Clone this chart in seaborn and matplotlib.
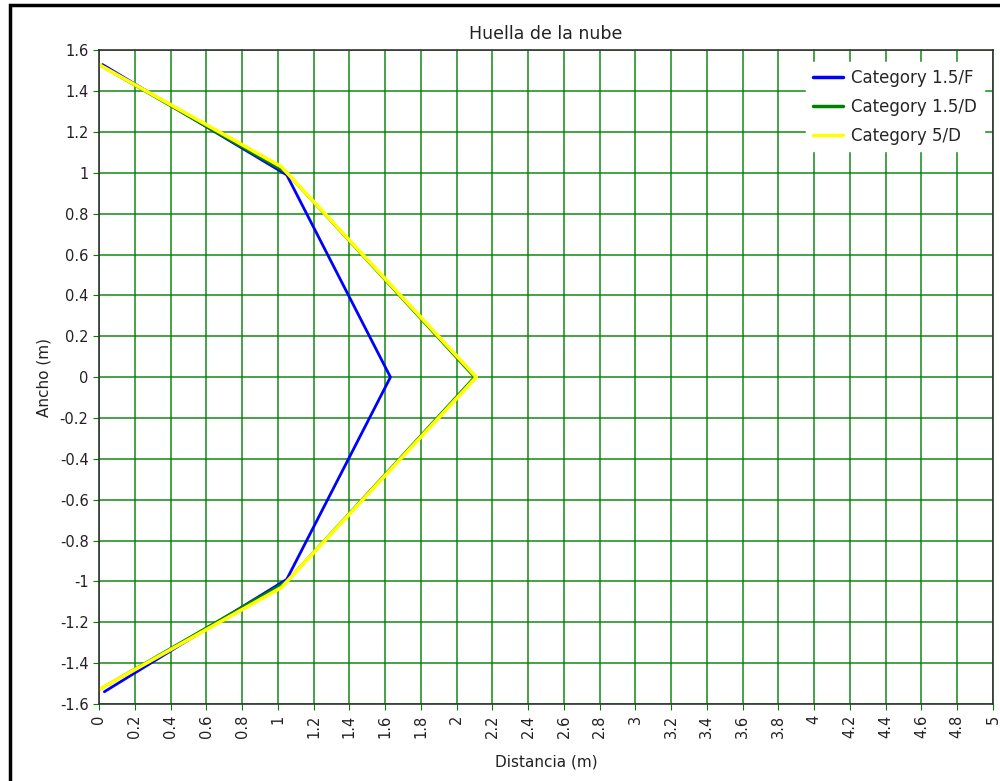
import numpy as np
import pandas as pd
import seaborn as sns
import matplotlib.pyplot as plt
from matplotlib.ticker import FuncFormatter
from matplotlib.patches import Rectangle

# huella de la nube
dist_15F = [0.02, 1.05, 1.63, 1.05, 0.03]
ancho_15F = [1.53, 0.99, 0.0, -0.99, -1.54]

dist_15D = [0.0, 1.05, 2.10, 1.05, 0.0]
ancho_15D = [1.53, 1.00, 0.0, -1.00, -1.53]

dist_5D = [0.0, 1.02, 2.11, 1.02, 0.0]
ancho_5D = [1.53, 1.03, 0.0, -1.03, -1.53]

series_names = ['Category 1.5/F', 'Category 1.5/D', 'Category 5/D']
series_colors = ['#0000ff', '#008000', '#ffff00']
series_widths = [2.0, 2.0, 2.6]

df = pd.concat([
    pd.DataFrame({'dist': dist_15F, 'ancho': ancho_15F, 'cat': series_names[0]}),
    pd.DataFrame({'dist': dist_15D, 'ancho': ancho_15D, 'cat': series_names[1]}),
    pd.DataFrame({'dist': dist_5D, 'ancho': ancho_5D, 'cat': series_names[2]}),
], ignore_index=True)

sns.set_style("white")
plt.rcParams['font.family'] = ['DejaVu Sans']

fig = plt.figure(figsize=(10, 7.81), dpi=100)
ax = fig.add_axes([0.099, 0.0986, 0.894, 0.837])

for name, col, lw in zip(series_names, series_colors, series_widths):
    sns.lineplot(data=df[df['cat'] == name], x='dist', y='ancho', sort=False,
                 color=col, linewidth=lw, label=name, ax=ax, estimator=None)

ax.set_xlim(0, 5)
ax.set_ylim(-1.6, 1.6)
ax.set_xticks(np.arange(0, 5.01, 0.2))
ax.set_yticks(np.arange(-1.6, 1.61, 0.2))


def fmt_tick(v, pos):
    v = round(v, 2)
    if v == 0:
        v = 0.0
    return '%g' % v


ax.xaxis.set_major_formatter(FuncFormatter(fmt_tick))
ax.yaxis.set_major_formatter(FuncFormatter(fmt_tick))
ax.grid(True, color='#008000', linewidth=1.2, alpha=0.85)
ax.set_axisbelow(True)
ax.tick_params(axis='both', direction='out', length=4, color='#008000',
               labelsize=10.5, labelcolor='#222222')
ax.tick_params(axis='x', rotation=90)
ax.tick_params(left=True, bottom=True)
for s in ax.spines.values():
    s.set_color('#333333')
    s.set_linewidth(1.2)

ax.set_title('Huella de la nube', fontsize=12.5, color='#222222', pad=8)
ax.set_xlabel('Distancia (m)', fontsize=11, color='#222222', labelpad=12)
ax.set_ylabel('Ancho (m)', fontsize=11, color='#222222', labelpad=6)

leg = ax.legend(loc='upper right', bbox_to_anchor=(0.995, 0.99), frameon=True,
                fontsize=12, handlelength=1.8, handletextpad=0.5, borderaxespad=0.3,
                labelspacing=0.66, fancybox=False)
leg.get_frame().set_edgecolor('white')
leg.get_frame().set_facecolor('white')
leg.get_frame().set_alpha(1)
for line in leg.get_lines():
    line.set_linewidth(2.5)

# borde negro de la ventana
fig.patches.append(Rectangle((0.010, -0.05), 1.2, 1.05 - 0.007, transform=fig.transFigure,
                             fill=False, edgecolor='black', linewidth=2.5))

fig.savefig('out.png', dpi=100)
